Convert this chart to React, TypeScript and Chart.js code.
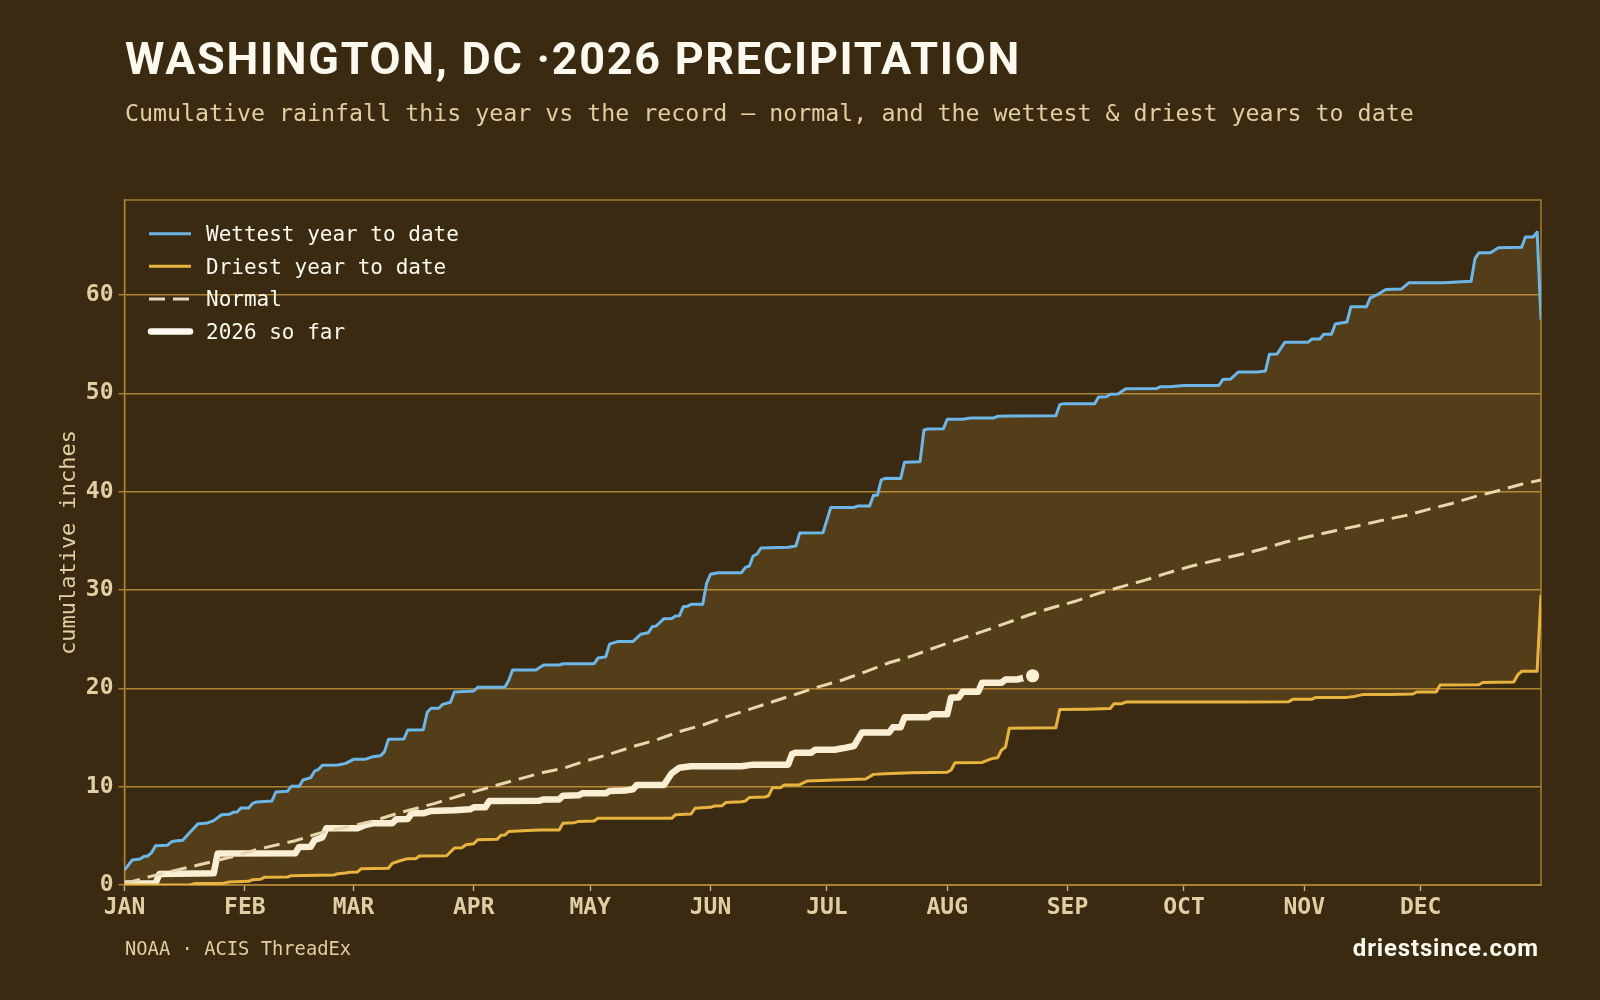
import React, { useEffect, useRef } from "react";
import { Chart, registerables } from "chart.js";

Chart.register(...registerables);

const BG = "#3a2a12";
const GOLD = "#ad8232";
const TEXT = "#e0cfa2";
const CREAM = "#fdf9ee";
const MONO = '"DejaVu Sans Mono", monospace';
const DISPLAY = 'Roboto, sans-serif';

const monthStarts = [0, 31, 59, 90, 120, 151, 181, 212, 243, 273, 304, 334];
const monthLabels = ["JAN", "FEB", "MAR", "APR", "MAY", "JUN", "JUL", "AUG", "SEP", "OCT", "NOV", "DEC"];

const wetDays = [0,2,4,5,6,7,8,11,12,13,15,17,19,21,23,25,27,28,29,30,32,33,34,38,39,42,43,45,46,48,49,50,51,55,57,59,62,64,66,67,68,72,73,77,78,79,81,82,84,85,90,91,98,99,100,106,108,112,113,121,122,124,125,127,131,133,135,136,137,139,141,142,143,144,145,146,149,150,151,153,159,160,161,162,163,164,171,173,174,180,182,188,189,192,193,194,195,196,200,201,205,206,207,211,212,216,218,224,225,228,240,241,242,250,251,253,254,256,258,266,267,270,273,282,283,285,287,292,294,295,297,299,305,306,308,309,311,312,315,316,320,321,323,325,329,331,340,347,348,349,352,354,360,361,363,364,365];
const wetInches = [1.53,2.54,2.64,2.9,2.95,3.3,4.0,4.03,4.37,4.47,4.54,5.42,6.24,6.27,6.55,7.15,7.19,7.39,7.42,7.83,7.83,8.3,8.44,8.54,9.46,9.53,10.03,10.03,10.68,10.92,11.59,11.76,12.17,12.2,12.37,12.78,12.78,13.05,13.15,13.56,14.81,14.85,15.76,15.8,17.56,17.97,17.97,18.37,18.58,19.63,19.73,20.1,20.1,20.8,21.86,21.86,22.37,22.37,22.5,22.5,23.08,23.2,24.5,24.75,24.75,25.5,25.66,26.27,26.34,27.08,27.1,27.36,27.39,28.3,28.34,28.54,28.54,30.68,31.6,31.76,31.76,32.3,32.44,33.46,33.66,34.27,34.35,34.47,35.8,35.83,38.4,38.4,38.54,38.54,39.63,39.63,41.2,41.36,41.33,43,43.05,46.27,46.37,46.4,47.36,47.36,47.5,47.5,47.66,47.7,47.73,48.85,48.95,48.95,49.63,49.66,49.9,49.93,50.47,50.5,50.68,50.7,50.8,50.8,51.4,51.45,52.17,52.17,52.27,53.97,54,55.2,55.2,55.53,55.53,56,56,57.05,57.25,58.8,58.8,59.7,60.07,60.55,60.6,61.25,61.25,61.4,63.7,64.3,64.3,64.8,64.85,65.9,65.9,66.4,57.5];

const dryDays = [0,17,18,25,27,32,33,35,36,42,43,54,55,57,58,60,61,68,69,71,73,75,76,83,85,87,88,90,91,96,97,98,99,104,107,112,113,116,117,121,122,141,142,146,147,151,152,154,155,159,160,161,165,166,167,169,170,174,176,183,191,193,196,203,212,213,214,221,223,224,225,226,227,228,240,241,248,254,255,257,258,288,300,301,306,307,315,317,319,326,332,333,338,339,349,350,358,359,360,364,365];
const dryInches = [0,0.03,0.14,0.14,0.3,0.37,0.54,0.58,0.78,0.81,0.95,1.02,1.15,1.22,1.29,1.32,1.66,1.7,2.2,2.47,2.68,2.68,2.95,2.98,3.76,3.8,4.1,4.2,4.6,4.64,5.05,5.08,5.44,5.53,5.6,5.6,6.27,6.34,6.47,6.5,6.78,6.78,7.15,7.22,7.8,7.9,8.03,8.07,8.4,8.47,8.54,8.9,8.95,9.08,9.9,9.9,10.17,10.2,10.58,10.68,10.78,11.25,11.32,11.42,11.46,11.7,12.44,12.47,12.78,12.9,12.95,13.73,14,15.93,16,17.85,17.88,17.95,18.44,18.44,18.6,18.6,18.64,18.88,18.9,19.08,19.08,19.18,19.36,19.36,19.42,19.63,19.63,20.34,20.37,20.6,20.64,21.36,21.73,21.73,29.5];

const normalDays = [0,7,19,29,34,44,50,64,71,80,87,94,100,107,113,119,125,131,137,143,149,155,161,167,173,179,185,191,197,203,209,215,221,227,233,239,245,251,257,263,269,275,281,287,293,299,305,312,318,324,330,336,342,348,354,360,365];
const normalInches = [0.15,0.9,2.03,3.0,3.6,4.5,5.25,6.5,7.36,8.3,9.15,9.93,10.6,11.36,11.86,12.64,13.3,14.07,14.75,15.6,16.27,17.1,17.86,18.64,19.4,20.17,20.85,21.7,22.6,23.3,24.17,24.98,25.76,26.6,27.46,28.2,28.85,29.66,30.34,31,31.76,32.44,33,33.56,34.14,34.85,35.42,36.03,36.54,37.08,37.56,38.2,38.8,39.5,40.1,40.75,41.2];

const yearDays = [0,8,9,23,24,44,45,48,49,51,52,60,62,64,69,70,73,74,77,79,85,89,90,93,94,107,108,112,113,117,118,124,125,129,131,132,139,141,143,146,159,162,171,172,173,177,178,183,185,188,190,197,198,200,201,207,208,212,213,215,216,220,221,226,227,230,234];
const yearInches = [0.15,0.17,1.12,1.19,3.2,3.22,3.86,3.9,4.58,4.85,5.76,5.76,6.1,6.27,6.27,6.68,6.71,7.29,7.29,7.53,7.6,7.7,7.9,7.9,8.54,8.58,8.7,8.7,9.08,9.12,9.32,9.32,9.56,9.6,9.73,10.17,10.17,11.36,11.93,12.07,12.07,12.24,12.24,13.32,13.46,13.46,13.76,13.76,13.9,14.14,15.5,15.5,16.03,16.03,17.05,17.05,17.36,17.36,19.08,19.08,19.66,19.66,20.58,20.58,20.9,20.9,21.28];

const pairs = (days: number[], values: number[]) => days.map((x, i) => ({ x, y: values[i] }));

const plotFrame = {
  id: "plotFrame",
  beforeDatasetsDraw(chart: any) {
    const { ctx, chartArea: a } = chart;
    ctx.save();
    ctx.strokeStyle = GOLD;
    ctx.lineWidth = 1.4;
    ctx.strokeRect(a.left, a.top, a.right - a.left, a.bottom - a.top);
    ctx.restore();
  },
};

const insideLegend = {
  id: "insideLegend",
  afterDraw(chart: any) {
    const { ctx } = chart;
    ctx.save();
    chart.data.datasets.forEach((ds: any, i: number) => {
      const y = 233.7 + i * 32.6;
      ctx.beginPath();
      ctx.strokeStyle = ds.borderColor;
      ctx.lineWidth = ds.borderWidth;
      ctx.lineCap = ds.borderWidth > 4 ? "round" : "butt";
      ctx.setLineDash(ds.borderDash || []);
      ctx.moveTo(ds.borderWidth > 4 ? 151 : 149, y);
      ctx.lineTo(ds.borderWidth > 4 ? 190 : 191, y);
      ctx.stroke();
      ctx.setLineDash([]);
      ctx.fillStyle = CREAM;
      ctx.font = `21px ${MONO}`;
      ctx.textBaseline = "middle";
      ctx.textAlign = "left";
      ctx.fillText(ds.label, 206, y + 2);
    });
    ctx.restore();
  },
};

export default function App() {
  const ref = useRef<HTMLCanvasElement>(null);
  useEffect(() => {
    document.body.style.margin = "0";
    document.body.style.background = BG;
    const lastYear = yearDays.length - 1;
    const chart = new Chart(ref.current!, {
      type: "line",
      data: {
        datasets: [
          {
            label: "Wettest year to date",
            data: pairs(wetDays, wetInches),
            borderColor: "#6cb6e8",
            borderWidth: 3,
            pointRadius: 0,
            fill: { target: "+1" },
            backgroundColor: "rgba(232,180,64,0.15)",
            borderJoinStyle: "round",
          },
          {
            label: "Driest year to date",
            data: pairs(dryDays, dryInches),
            borderColor: "#e8b440",
            borderWidth: 3,
            pointRadius: 0,
            fill: false,
            borderJoinStyle: "round",
          },
          {
            label: "Normal",
            data: pairs(normalDays, normalInches),
            borderColor: "#e8dcc0",
            borderWidth: 3,
            borderDash: [16, 8],
            pointRadius: 0,
            fill: false,
          },
          {
            label: "2026 so far",
            data: pairs(yearDays, yearInches),
            borderColor: CREAM,
            borderWidth: 6.5,
            borderJoinStyle: "round",
            fill: false,
            pointRadius: (c: any) => (c.dataIndex === lastYear ? 8.3 : 0),
            pointBackgroundColor: CREAM,
            pointBorderColor: BG,
            pointBorderWidth: 3.4,
          },
        ] as any,
      },
      options: {
        responsive: false,
        animation: false,
        devicePixelRatio: 1,
        layout: { padding: { left: 0, top: 200, right: 59, bottom: 0 } },
        plugins: { legend: { display: false }, title: { display: false }, tooltip: { enabled: false } },
        scales: {
          x: {
            type: "linear",
            min: 0,
            max: 365,
            afterFit: (s: any) => { s.height = 115; },
            afterBuildTicks: (s: any) => { s.ticks = monthStarts.map((value) => ({ value })); },
            grid: { drawOnChartArea: false, drawTicks: true, tickLength: 6, tickColor: "#c9b27c", tickWidth: 1.4 },
            border: { color: GOLD, width: 1.4 },
            ticks: {
              autoSkip: false,
              maxRotation: 0,
              padding: 3,
              color: TEXT,
              font: { family: MONO, size: 23, weight: "bold" },
              callback: (v: any) => monthLabels[monthStarts.indexOf(Number(v))] ?? "",
            },
          },
          y: {
            type: "linear",
            min: 0,
            max: 69.66,
            afterFit: (s: any) => { s.width = 124.5; },
            grid: { color: GOLD, lineWidth: 1.4, tickLength: 6, tickColor: GOLD },
            border: { color: GOLD, width: 1.4 },
            ticks: {
              stepSize: 10,
              includeBounds: false,
              padding: 5,
              color: TEXT,
              font: { family: MONO, size: 23, weight: "bold" },
            },
            title: {
              display: true,
              text: "cumulative inches",
              color: TEXT,
              font: { family: MONO, size: 22, weight: "normal" },
              padding: { top: 56, bottom: 0 },
            },
          },
        },
      } as any,
      plugins: [plotFrame, insideLegend],
    });
    return () => chart.destroy();
  }, []);

  const abs = (s: React.CSSProperties): React.CSSProperties => ({ position: "absolute", whiteSpace: "nowrap", ...s });
  return (
    <div style={{ position: "relative", width: 1600, height: 1000, background: BG, overflow: "hidden" }}>
      <canvas ref={ref} width={1600} height={1000} style={{ display: "block", width: 1600, height: 1000 }} />
      <div style={abs({ left: 125, top: 32, color: CREAM, font: `700 45px ${DISPLAY}`, letterSpacing: "1.7px" })}>WASHINGTON, DC ·2026 PRECIPITATION</div>
      <div style={abs({ left: 125, top: 99, color: TEXT, font: `23.27px ${MONO}` })}>
        Cumulative rainfall this year vs the record — normal, and the wettest &amp; driest years to date
      </div>
      <div style={abs({ left: 125, top: 938, color: TEXT, font: `18.8px ${MONO}` })}>NOAA · ACIS ThreadEx</div>
      <div style={abs({ right: 61, top: 934, color: CREAM, font: `700 24px ${DISPLAY}`, letterSpacing: "0.85px" })}>driestsince.com</div>
    </div>
  );
}
